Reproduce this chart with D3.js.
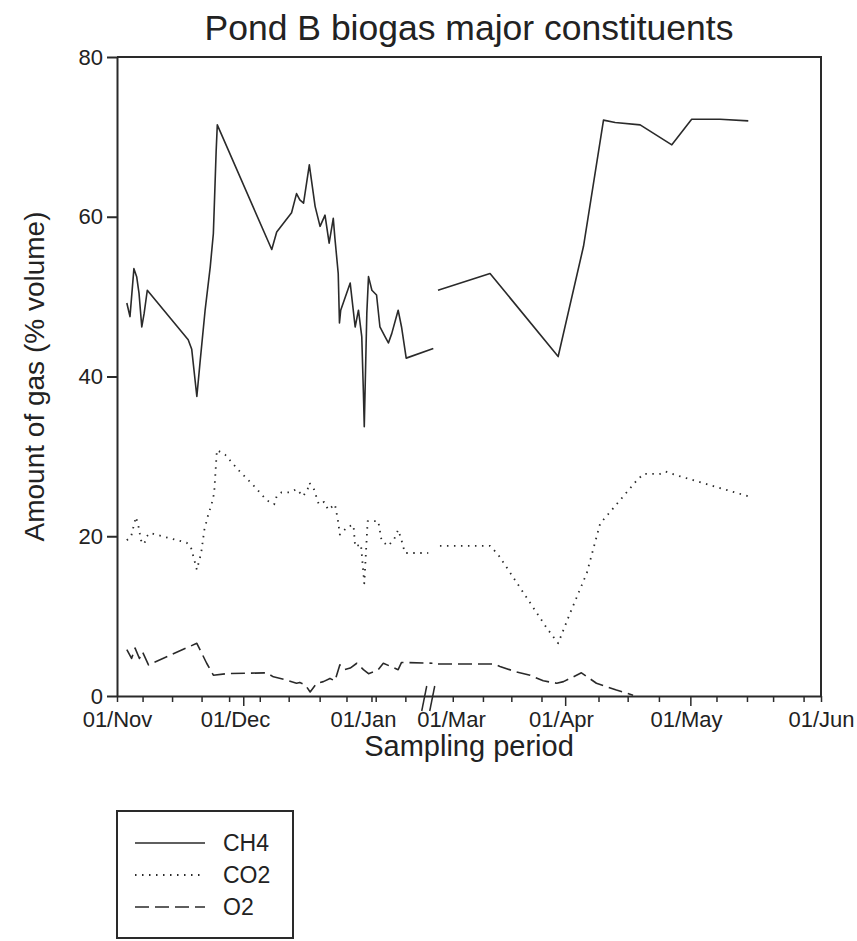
<!DOCTYPE html>
<html>
<head>
<meta charset="utf-8">
<script src="https://cdn.jsdelivr.net/npm/d3@7"></script>
<style>
  body { margin: 0; background: #fff; }
  text { font-family: "Liberation Sans", Arial, sans-serif; fill: #222; }
</style>
</head>
<body>
<div id="chart"></div>
<script>
// x values are days counted from 01/Nov (01/Mar = day 120, no leap year)
const monthDays = [0, 30, 61, 120, 151, 181, 212];
const monthLabels = ["01/Nov", "01/Dec", "01/Jan", "01/Mar", "01/Apr", "01/May", "01/Jun"];
const minorTicks = [0, 6.5, 14, 21.5, 28.5, 36, 43, 50.5, 57, 63, 64, 71,
  120.5, 129, 137, 145.5, 160, 167, 174.5, 188, 195, 201, 208, 212];
const longTicks = [32, 152, 182];
const yTicks = [0, 20, 40, 60, 80];

// [day, % volume]
const ch4A = [[2.5, 49.2], [3.3, 47.5], [4.3, 53.5], [5.0, 52.5], [5.6, 50.4], [6.3, 46.2], [6.9, 47.9], [7.7, 50.8],
  [18.1, 44.6], [19.0, 43.4], [20.3, 37.5], [21.1, 41.7], [22.4, 48.3], [23.7, 53.7], [24.5, 57.9], [24.7, 60.8],
  [25.2, 68.1], [25.5, 71.5], [38.9, 55.9], [40.1, 58.1], [43.7, 60.5], [44.9, 62.9], [45.7, 62.1], [46.6, 61.7],
  [48.0, 66.5], [49.4, 61.3], [50.6, 58.8], [51.8, 60.2], [52.8, 56.7], [53.8, 59.8], [54.2, 57.3], [55.0, 52.9],
  [55.3, 46.7], [55.6, 48.3], [57.9, 51.7], [59.1, 46.2], [59.9, 48.3], [60.7, 45.0], [61.1, 37.9], [61.3, 33.7],
  [61.9, 47.9], [62.3, 52.5], [63.1, 50.8], [64.2, 50.2], [65.0, 46.2], [66.2, 45.0], [67.0, 44.2], [67.8, 45.4],
  [69.3, 48.3], [70.1, 46.2], [71.2, 42.3], [77.6, 43.5]];
const ch4B = [[116, 50.8], [131.0, 52.9], [150.2, 42.5], [156.4, 56.3], [161.2, 72.1], [164.0, 71.8], [170.0, 71.5],
  [177.6, 69.0], [182.3, 72.2], [188.8, 72.2], [195.3, 72.0]];

const co2A = [[2.5, 19.5], [3.6, 20.0], [4.1, 21.0], [4.8, 22.4], [5.4, 21.4], [6.1, 19.5], [6.9, 19.0], [7.6, 20.0],
  [8.4, 20.4], [17.7, 19.2], [18.8, 18.6], [19.4, 17.5], [20.3, 15.8], [21.4, 17.9], [22.2, 20.8], [23.2, 22.7],
  [24.1, 24.1], [24.7, 25.4], [25.4, 30.8], [27.5, 30.2], [30.8, 28.3], [34.4, 26.4], [37.7, 24.5], [39.5, 24.0],
  [40.1, 25.0], [41.3, 25.5], [43.3, 25.5], [44.9, 25.9], [46.5, 25.0], [47.6, 25.9], [48.0, 26.7], [49.1, 25.9],
  [50.3, 24.0], [51.6, 24.3], [52.6, 23.3], [54.2, 24.0], [54.9, 22.1], [55.4, 20.2], [57.3, 21.2], [58.7, 21.4],
  [59.1, 18.7], [60.5, 19.0], [61.3, 14.1], [62.1, 21.9], [64.6, 21.9], [65.4, 19.4], [67.0, 18.8], [68.4, 19.7],
  [69.3, 20.8], [70.0, 19.7], [70.9, 17.9], [76.4, 17.9]];
const co2B = [[116.6, 18.8], [131.0, 18.8], [133.3, 17.7], [147.0, 8.5], [150.2, 6.6], [153.2, 10.4], [157.2, 15.4],
  [160.4, 21.6], [163.2, 23.3], [169.2, 27.0], [170.8, 27.8], [174.8, 27.8], [176.1, 28.1], [179.6, 27.5], [195.3, 25.0]];

const o2A = [[2.5, 5.8], [3.7, 4.7], [4.6, 6.0], [5.7, 4.7], [6.5, 5.5], [8.0, 3.9], [20.3, 6.6], [22.8, 4.1],
  [24.5, 2.6], [27.9, 2.8], [37.7, 2.9], [39.3, 2.4], [42.5, 2.0], [44.9, 1.6], [45.7, 1.7], [47.0, 1.4],
  [48.2, 0.5], [49.8, 1.6], [51.4, 1.8], [53.0, 2.2], [54.2, 1.9], [55.4, 3.9], [56.6, 3.3], [57.9, 3.5],
  [59.5, 4.1], [61.1, 3.3], [62.3, 2.8], [63.4, 3.0], [64.6, 3.3], [65.8, 4.1], [69.3, 3.3], [70.1, 4.2], [77.4, 4.1]];
const o2B = [[116, 4.0], [132.0, 4.0], [133.8, 3.7], [138.5, 3.0], [142.3, 2.6], [146.0, 1.9], [149.8, 1.6],
  [151.6, 1.8], [155.9, 2.9], [159.5, 1.6], [164.3, 0.75], [168.3, 0.1]];

const seriesNames = ["CH4", "CO2", "O2"];
const seriesDash = ["none", "1.5 5.5", "14 6"];

const W = 857, H = 941;
const ink = "#2a2a2a";

const svg = d3.select("#chart").append("svg")
  .attr("width", W)
  .attr("height", H);

// broken time axis: Nov-Jan, then late Feb-Jun
const x = d3.scaleLinear()
  .domain([0, 30, 61, 78, 116, 120, 151, 181, 212])
  .range([117, 235, 363, 435, 438, 451, 561, 686, 821]);
const y = d3.scaleLinear().domain([0, 80]).range([696, 57]);

// frame
svg.append("path")
  .attr("d", `M${x(0)},${y(80)}H${x(212)}V${y(0)}`)
  .attr("fill", "none").attr("stroke", ink).attr("stroke-width", 2);

// y axis
const yAxis = svg.append("g")
  .attr("transform", `translate(${x(0)},0)`)
  .call(d3.axisLeft(y).tickValues(yTicks).tickSize(10).tickPadding(4).tickSizeOuter(0));
yAxis.select(".domain").attr("stroke", ink).attr("stroke-width", 2);
yAxis.selectAll(".tick line").attr("stroke", ink).attr("stroke-width", 2);
yAxis.selectAll(".tick text").style("font-size", "22px").attr("fill", ink)
  .style("font-family", "'Liberation Sans', Arial, sans-serif");

// x axis baseline + ticks
const xAxis = svg.append("g")
  .attr("transform", `translate(0,${y(0)})`)
  .call(d3.axisBottom(x).tickValues(minorTicks).tickSize(6).tickFormat("").tickSizeOuter(0));
xAxis.select(".domain").attr("stroke", ink).attr("stroke-width", 2);
xAxis.selectAll(".tick line").attr("stroke", ink).attr("stroke-width", 1.5);

svg.append("g")
  .attr("transform", `translate(0,${y(0)})`)
  .call(d3.axisBottom(x).tickValues(longTicks).tickSize(10).tickFormat(""))
  .call(g => g.select(".domain").remove())
  .selectAll(".tick line").attr("stroke", ink).attr("stroke-width", 1.5);

svg.append("g")
  .attr("transform", `translate(0,${y(0)})`)
  .call(d3.axisBottom(x).tickValues(monthDays).tickSize(0).tickPadding(15)
    .tickFormat((d, i) => monthLabels[i]))
  .call(g => g.select(".domain").remove())
  .selectAll(".tick text").style("font-size", "22px").attr("fill", ink)
  .style("font-family", "'Liberation Sans', Arial, sans-serif");

// axis break marks
const bx = x(76.4);
[-4, 4].forEach(off => {
  svg.append("line")
    .attr("x1", bx + off - 2.5).attr("y1", y(0) + 15)
    .attr("x2", bx + off + 2.5).attr("y2", y(0) - 10)
    .attr("stroke", ink).attr("stroke-width", 1.5);
});

// lines
const line = d3.line().x(d => x(d[0])).y(d => y(d[1]));
const segments = [[ch4A, ch4B], [co2A, co2B], [o2A, o2B]];
segments.forEach((segs, i) => {
  segs.forEach(seg => {
    svg.append("path")
      .datum(seg)
      .attr("fill", "none")
      .attr("stroke", ink)
      .attr("stroke-width", i === 1 ? 1.8 : 1.6)
      .attr("stroke-dasharray", seriesDash[i])
      .attr("stroke-linejoin", "round")
      .attr("d", line);
  });
});

// titles
svg.append("text")
  .attr("x", (x(0) + x(212)) / 2).attr("y", 40)
  .attr("text-anchor", "middle")
  .style("font-size", "35.5px")
  .text("Pond B biogas major constituents");

svg.append("text")
  .attr("x", (x(0) + x(212)) / 2).attr("y", 756)
  .attr("text-anchor", "middle")
  .style("font-size", "29px")
  .attr("fill", "#333")
  .text("Sampling period");

svg.append("text")
  .attr("transform", `translate(44,${(y(0) + y(80)) / 2}) rotate(-90)`)
  .attr("text-anchor", "middle")
  .style("font-size", "28px")
  .attr("fill", "#333")
  .text("Amount of gas (% volume)");

// legend
const legend = svg.append("g").attr("transform", "translate(117,811)");
legend.append("rect")
  .attr("width", 176).attr("height", 127)
  .attr("fill", "none").attr("stroke", ink).attr("stroke-width", 2);
seriesNames.forEach((name, i) => {
  const ly = 32 + i * 32;
  legend.append("line")
    .attr("x1", 18).attr("x2", 88).attr("y1", ly).attr("y2", ly)
    .attr("stroke", ink).attr("stroke-width", i === 1 ? 1.8 : 1.6)
    .attr("stroke-dasharray", seriesDash[i]);
  legend.append("text")
    .attr("x", 106).attr("y", ly).attr("dy", "0.36em")
    .style("font-size", "23px")
    .attr("fill", "#333")
    .text(name);
});
</script>
</body>
</html>
